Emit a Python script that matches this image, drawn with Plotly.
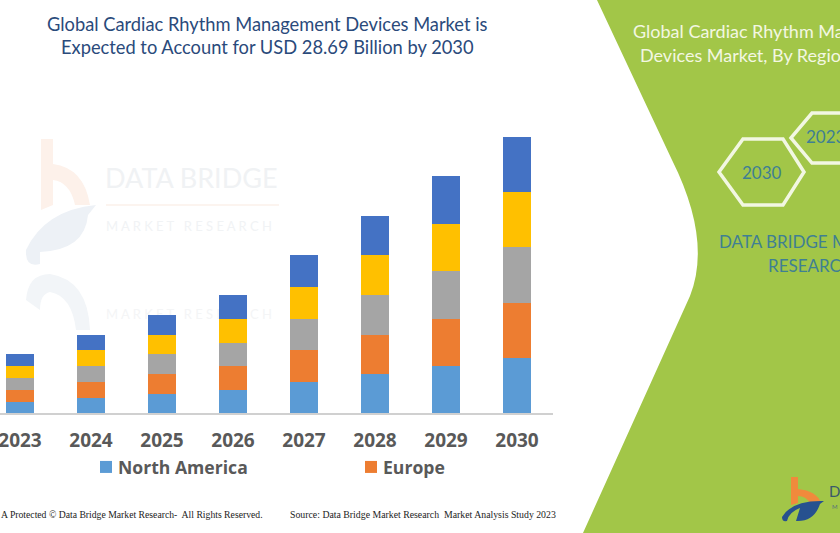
import plotly.graph_objects as go

W, H = 840, 533

years = ["2023", "2024", "2025", "2026", "2027", "2028", "2029", "2030"]
north_america = [1.14, 1.53, 1.98, 2.39, 3.22, 4.05, 4.89, 5.75]
europe = [1.25, 1.73, 2.08, 2.53, 3.36, 4.09, 4.89, 5.72]
series_3 = [1.22, 1.63, 2.08, 2.33, 3.19, 4.10, 4.99, 5.79]
series_4 = [1.28, 1.66, 1.98, 2.53, 3.33, 4.19, 4.89, 5.72]
series_5 = [1.25, 1.56, 2.08, 2.49, 3.33, 4.05, 4.99, 5.71]

series = [
    ("North America", north_america, "#5B9BD5", True),
    ("Europe", europe, "#ED7D31", True),
    ("Series 3", series_3, "#A5A5A5", False),
    ("Series 4", series_4, "#FFC000", False),
    ("Series 5", series_5, "#4472C4", False),
]


def px(x):
    return x / W


def py(y):
    return 1 - y / H


def path(points, close=True):
    d = "M" + " L".join(f"{px(x):.5f},{py(y):.5f}" for x, y in points)
    return d + (" Z" if close else "")


def raw(cmds):
    """cmds: list of (letter, x, y, ...) in pixels"""
    out = []
    for c in cmds:
        nums = c[1:]
        pairs = [f"{px(nums[i]):.5f},{py(nums[i + 1]):.5f}" for i in range(0, len(nums), 2)]
        out.append(c[0] + " ".join(pairs))
    return " ".join(out)


fig = go.Figure()

# Watermark text lives on a full-page subplot drawn underneath the bars
fig.add_scatter(
    x=[105, 106, 106], y=[181, 228, 316],
    mode="text", text=["DATA BRIDGE", "M A R K E T   R E S E A R C H", "M A R K E T   R E S E A R C H"],
    textposition="middle right", hoverinfo="skip", showlegend=False, xaxis="x", yaxis="y",
    textfont=dict(family="Lato", size=[27, 13, 13], color=["#F0F2F4", "#F1F3F5", "#F4F5F6"]),
)

for name, vals, color, show in series:
    fig.add_bar(x=years, y=vals, name=name, marker=dict(color=color, line=dict(width=0)),
                showlegend=show, xaxis="x2", yaxis="y2")

shapes = []
# green panel
shapes.append(dict(type="path", xref="paper", yref="paper", layer="below",
                   path=raw([("M", 597, 0), ("L", 672, 160), ("Q", 712, 240, 690, 296), ("L", 583, 533),
                             ("L", 840, 533), ("L", 840, 0)]) + " Z",
                   fillcolor="#A2C648", line=dict(width=0)))
# hexagons
hex_line = dict(color="#F2F7E2", width=3.5)
shapes.append(dict(type="path", xref="paper", yref="paper", layer="below",
                   path=path([(719, 172), (743, 139), (783, 139), (804, 172), (783, 205), (743, 205)]),
                   line=hex_line))
shapes.append(dict(type="path", xref="paper", yref="paper", layer="below",
                   path=path([(791, 138), (812, 113), (856, 113), (877, 138), (856, 163), (812, 163)]),
                   line=hex_line))
# faint watermark logo
shapes.append(dict(type="path", xref="paper", yref="paper", layer="below",
                   path=raw([("M", 41, 139), ("L", 53, 139), ("L", 53, 164), ("Q", 84, 168, 90, 205),
                             ("L", 75, 205), ("Q", 70, 182, 53, 180), ("L", 53, 205), ("L", 41, 210)]) + " Z",
                   fillcolor="#FDF1EA", line=dict(width=0)))
shapes.append(dict(type="path", xref="paper", yref="paper", layer="below",
                   path=raw([("M", 96, 205), ("Q", 45, 210, 26, 250), ("Q", 25, 268, 40, 264), ("L", 40, 252),
                             ("Q", 85, 250, 88, 215)]) + " Z",
                   fillcolor="#EDF1F6", line=dict(width=0)))
shapes.append(dict(type="path", xref="paper", yref="paper", layer="below",
                   path=raw([("M", 26, 300), ("Q", 28, 274, 50, 274), ("Q", 88, 280, 90, 330), ("L", 76, 330),
                             ("Q", 72, 296, 50, 292), ("Q", 40, 294, 40, 310)]) + " Z",
                   fillcolor="#F2F5F8", line=dict(width=0)))
shapes.append(dict(type="line", xref="paper", yref="paper", layer="below",
                   x0=px(106), x1=px(279), y0=py(205), y1=py(205), line=dict(color="#FBF0EA", width=1.5)))
# corner logo
shapes.append(dict(type="path", xref="paper", yref="paper", layer="below",
                   path=raw([("M", 791, 477), ("L", 798, 477), ("L", 798, 489), ("Q", 817, 491, 821, 503),
                             ("L", 810, 503), ("Q", 806, 496, 798, 496), ("L", 798, 503), ("L", 791, 505)]) + " Z",
                   fillcolor="#F08A3C", line=dict(width=0)))
shapes.append(dict(type="path", xref="paper", yref="paper", layer="below",
                   path=raw([("M", 824, 501), ("Q", 792, 500, 782, 517), ("Q", 782, 522, 787, 521),
                             ("Q", 789, 512, 800, 508), ("L", 796, 521), ("Q", 814, 522, 820, 504)]) + " Z",
                   fillcolor="#27518F", line=dict(width=0)))

title_font = dict(family="Lato", size=18.3, color="#2A4A7B")
teal = "#3F7F93"
cream = "#F3F7E2"


def note(x, y, text, anchor="left", **font):
    return dict(x=px(x), y=py(y), xref="paper", yref="paper", text=text, showarrow=False,
                xanchor=anchor, yanchor="middle", font=font)


annotations = [
    note(267.5, 24.5, "Global Cardiac Rhythm Management Devices Market is", "center", **title_font),
    note(267.5, 47.5, "Expected to Account for USD 28.69 Billion by 2030", "center", **title_font),
    note(631, 31, "Global Cardiac Rhythm Ma", family="Lato", size=18, color=cream),
    note(638, 55, "Devices Market, By Regio", family="Lato", size=18, color=cream),
    note(762, 172, "2030", "center", family="Lato", size=17, color=teal),
    note(804, 137, "2023", family="Lato", size=17, color=teal),
    note(717, 241, "DATA BRIDGE M", family="Lato", size=17, color=teal),
    note(766, 265, "RESEARC", family="Lato", size=17, color=teal),
    note(-1, 514, "A Protected © Data Bridge Market Research-  All Rights Reserved.",
         family="Liberation Serif", size=9.7, color="#222222"),
    note(288, 514, "Source: Data Bridge Market Research  Market Analysis Study 2023",
         family="Liberation Serif", size=9.8, color="#222222"),
    note(827, 491, "D", family="Lato", size=15, color="#3A5A6A"),
    note(830, 506, "M", family="Lato", size=6, color="#55707A"),
]

# one category step is about 71 pixels wide
STEP = 71.0
LEFT = 20

fig.update_layout(
    width=W, height=H, margin=dict(l=0, r=0, t=0, b=0, autoexpand=False),
    paper_bgcolor="white", plot_bgcolor="rgba(0,0,0,0)",
    barmode="stack", bargap=0.606,
    font=dict(family="Open Sans", color="#595959"),
    xaxis=dict(domain=[0, 1], range=[0, W], visible=False, fixedrange=True, automargin=False),
    yaxis=dict(domain=[0, 1], range=[H, 0], visible=False, fixedrange=True, automargin=False),
    xaxis2=dict(domain=[0, 553 / W], range=[-LEFT / STEP, (553 - LEFT) / STEP], type="category", anchor="y2",
                automargin=False,
                showline=True, linecolor="#D0D0D0", linewidth=1.5, ticks="", showgrid=False,
                tickfont=dict(family="Open Sans", size=19, color="#595959", weight="bold"), ticklabelstandoff=9),
    yaxis2=dict(domain=[(H - 413) / H, 1 - 100 / H], range=[0, 313 / 9.62], visible=False, anchor="x2",
                automargin=False),
    legend=dict(orientation="h", x=78 / W, y=py(467), yanchor="middle", xanchor="left",
                entrywidth=220, entrywidthmode="pixels", traceorder="normal",
                font=dict(family="Open Sans", size=17.6, color="#595959", weight="bold"),
                bgcolor="rgba(0,0,0,0)"),
    shapes=shapes, annotations=annotations,
)

fig.write_html(
    "out.html",
    config=dict(displayModeBar=False),
    post_script=(
        "document.body.style.margin='0';document.body.style.overflow='hidden';"
        "document.querySelectorAll('.legend .legendpoints').forEach(function(g){"
        "g.setAttribute('transform','translate(8,0)');});"
    ),
)
